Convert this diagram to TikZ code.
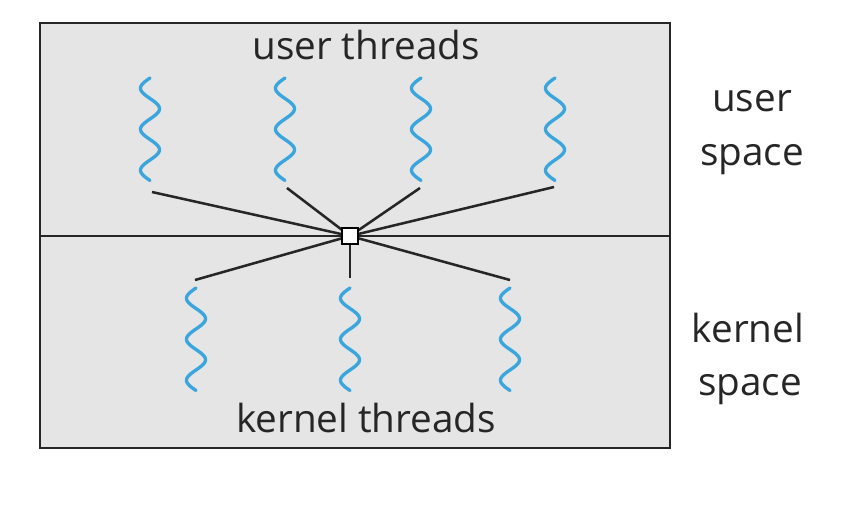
\documentclass[tikz,border=0pt]{standalone}
\usepackage{fontspec}
\setmainfont{Open Sans}
\begin{document}
\begin{tikzpicture}[x=0.75pt,y=-0.75pt,
  panel/.style={draw=black!85,line width=1.5pt,fill=black!10},
  wavy/.style={draw={rgb,255:red,58;green,166;blue,221},line width=2.5pt,line cap=round,line join=round},
  conn/.style={draw=black!85,line width=1.9pt},
  hub/.style={draw=black,fill=white,line width=1.3pt,minimum size=12pt,inner sep=0pt},
  lbl/.style={font=\fontsize{29}{40}\selectfont,text=black!85,inner sep=0pt,align=center}]
\useasboundingbox (0,0) rectangle (866,516);
\fill[white] (0,0) rectangle (866,516);
\draw[panel] (40,23) rectangle (670,448);
\draw[draw=black!85,line width=1.5pt] (40,236) -- (670,236);
% user threads
\foreach \cx in {150,285,421,555}{
  \draw[wavy] plot[variable=\yy,domain=0:102.5,samples=120] ({\cx-9.5*sin(8.7805*\yy)},{78+\yy});
}
\foreach \cx in {196,350,510}{
  \draw[wavy] plot[variable=\yy,domain=0:102.5,samples=120] ({\cx-9.5*sin(8.7805*\yy)},{288+\yy});
}
\coordinate (u1) at (152,192);
\coordinate (u2) at (287,188);
\coordinate (u3) at (420,188);
\coordinate (u4) at (554,187);
\coordinate (k1) at (195,280);
\coordinate (k2) at (350,278);
\coordinate (k3) at (510,280);
\foreach \e in {u1,u2,u3,u4,k1,k2,k3}{
  \draw[conn] (350,236) -- (\e);
}
\node[hub] (c) at (350,236) {};
\node[lbl,anchor=base] (ut) at (366,60) {user threads};
\node[lbl,anchor=base] (kt) at (366,432) {kernel threads};
\node[lbl,anchor=base] (us) at (752,112) {user};
\node[lbl,anchor=base] (us2) at (752,166) {space};
\node[lbl,anchor=base] (ks) at (748,342) {kernel};
\node[lbl,anchor=base] (ks2) at (750,395) {space};
\end{tikzpicture}
\end{document}
